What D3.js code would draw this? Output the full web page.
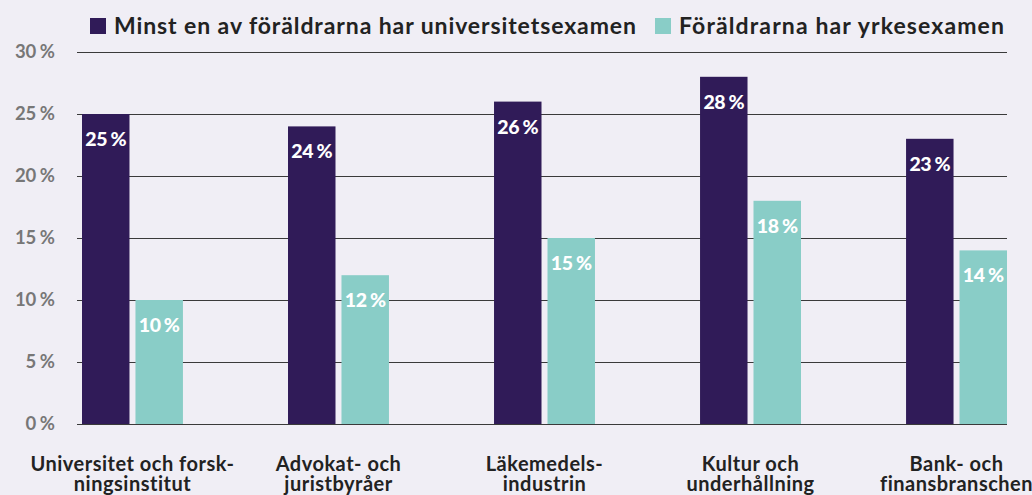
<!DOCTYPE html>
<html lang="sv">
<head>
<meta charset="UTF-8">
<title>Föräldrarnas utbildning</title>
<script src="https://cdn.jsdelivr.net/npm/d3@7/dist/d3.min.js"></script>
<style>
  body { margin: 0; background: #f0eef5; }
  text { font-family: Lato, "Noto Sans", sans-serif; font-weight: 700; }
</style>
</head>
<body>
<script>
  const categories = [
    ["Universitet och forsk-", "ningsinstitut"],
    ["Advokat- och", "juristbyråer"],
    ["Läkemedels-", "industrin"],
    ["Kultur och", "underhållning"],
    ["Bank- och", "finansbranschen"]
  ]
  const seriesNames = ["Minst en av föräldrarna har universitetsexamen", "Föräldrarna har yrkesexamen"]
  const university = [25, 24, 26, 28, 23]
  const vocational = [10, 12, 15, 18, 14]
  const yTicks = [0, 5, 10, 15, 20, 25, 30]

  const colors = ["#301b58", "#89cdc7"]
  const W = 1032, H = 495

  const keys = categories.map(c => c.join(" "))
  const data = keys.map((k, i) => ({key: k, lines: categories[i], values: [university[i], vocational[i]]}))

  const svg = d3.select("body").append("svg")
    .attr("width", W).attr("height", H)

  const y = d3.scaleLinear().domain([0, 30]).range([424, 52])
  const x0 = d3.scaleBand().domain(keys).range([82, 1007]).paddingInner(0.51).paddingOuter(0)
  const x1 = d3.scaleBand().domain([0, 1]).range([0, x0.bandwidth()]).paddingInner(0.112)

  // grid
  svg.append("g").selectAll("line")
    .data(yTicks).enter().append("line")
    .attr("x1", 77).attr("x2", 1007)
    .attr("y1", d => Math.round(y(d)) + 0.5).attr("y2", d => Math.round(y(d)) + 0.5)
    .attr("stroke", "#3a3a3a").attr("stroke-width", 1.2)

  svg.append("g").selectAll("text")
    .data(yTicks).enter().append("text")
    .attr("x", 55).attr("y", d => y(d) + 6)
    .attr("text-anchor", "end")
    .attr("fill", "#777")
    .style("font-size", "18.5px")
    .style("word-spacing", "-1px")
    .text(d => d + " %")

  // bars
  const groups = svg.append("g").selectAll("g")
    .data(data).enter().append("g")
    .attr("transform", d => "translate(" + x0(d.key) + ",0)")

  groups.selectAll("rect")
    .data(d => d.values).enter().append("rect")
    .attr("x", (d, i) => x1(i))
    .attr("y", d => y(d))
    .attr("width", x1.bandwidth())
    .attr("height", d => y(0) - y(d))
    .attr("fill", (d, i) => colors[i])

  groups.selectAll("text.val")
    .data(d => d.values).enter().append("text")
    .classed("val", true)
    .attr("x", (d, i) => x1(i) + x1.bandwidth() / 2)
    .attr("y", d => y(d) + 32)
    .attr("text-anchor", "middle")
    .attr("fill", "#fff")
    .style("font-size", "19.5px")
    .style("font-weight", 900)
    .style("letter-spacing", "-0.4px")
    .style("word-spacing", "-1px")
    .text(d => d + " %")

  // category labels (second line is cut by the bottom edge, as in the original)
  groups.append("text")
    .attr("text-anchor", "middle")
    .attr("fill", "#222")
    .style("font-size", "20px")
    .style("letter-spacing", "0.5px")
    .selectAll("tspan")
    .data(d => d.lines).enter().append("tspan")
    .attr("x", x0.bandwidth() / 2)
    .attr("y", (d, i) => 471 + i * 20)
    .text(d => d)

  // legend
  const legendX = [90, 655]
  const legendW = [522, 325]
  const legend = svg.append("g").selectAll("g")
    .data(seriesNames).enter().append("g")
    .attr("transform", (d, i) => "translate(" + legendX[i] + ",18)")
  legend.append("rect")
    .attr("width", 16).attr("height", 16)
    .attr("fill", (d, i) => colors[i])
  legend.append("text")
    .attr("x", 24).attr("y", 16)
    .attr("fill", "#222")
    .style("font-size", "23px")
    .attr("textLength", (d, i) => legendW[i])
    .attr("lengthAdjust", "spacing")
    .text(d => d)
</script>
</body>
</html>
